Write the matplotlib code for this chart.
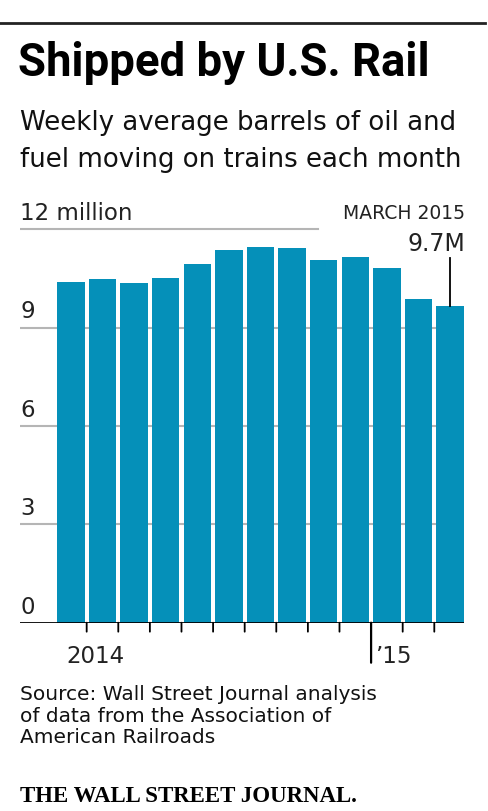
import matplotlib
matplotlib.use("Agg")
import matplotlib.pyplot as plt

# Monthly values, Mar 2014 - Mar 2015 (million barrels, weekly average)
months = ["Mar", "Apr", "May", "Jun", "Jul", "Aug", "Sep", "Oct", "Nov", "Dec",
          "Jan", "Feb", "Mar"]
barrels = [10.40, 10.48, 10.36, 10.50, 10.95, 11.37, 11.45, 11.42, 11.05, 11.16,
           10.82, 9.88, 9.66]
yticks = [0, 3, 6, 9, 12]
ytick_labels = ["0", "3", "6", "9", "12 million"]
year_labels = ["2014", "\u201915"]

plt.rcParams["font.family"] = ["DejaVu Sans"]

W, H = 489, 811
fig = plt.figure(figsize=(W / 100, H / 100), dpi=100)

def fx(px):
    return px / W

def fy(py):
    return 1 - py / H

# axes: x from 20 to 464 px, y=0 at 622.7 px, 32.8 px per million
y0, ppm = 622.7, 32.8
ytop = 12.6
ax = fig.add_axes([fx(20), fy(y0), fx(464) - fx(20), (ytop * ppm) / H])
ax.set_xlim(-1.61, 12.44)
ax.set_ylim(0, ytop)
ax.axis("off")

blue = "#0590b9"
x = list(range(len(barrels)))
ax.bar(x, barrels, width=0.87, color=blue, zorder=2)

# gridlines and tick labels
for v, lab in zip(yticks, ytick_labels):
    if v == 0:
        ax.axhline(0, color="black", lw=2, zorder=3)
    else:
        xmax = 7.82 if v == 12 else 12.44
        ax.plot([-1.61, xmax], [v, v], color="#b5b5b5", lw=1.5, zorder=1)
    ax.annotate(lab, xy=(-1.61, v), xytext=(0, 6.5), textcoords="offset points",
                ha="left", va="baseline", fontsize=16.5, color="#222222")

# month ticks between bars
for i in range(len(barrels) - 1):
    big = months[i + 1] == "Jan"
    ln = 40 if big else 9
    ax.annotate("", xy=(i + 0.5, 0), xytext=(0, -ln * 0.72), textcoords="offset points",
                arrowprops=dict(arrowstyle="-", color="black", lw=1.6 if big else 1.3,
                                shrinkA=0, shrinkB=0))

fig.text(fx(66), fy(662.7), year_labels[0], fontsize=16.5, color="#222222", va="baseline")
fig.text(fx(375), fy(662.7), year_labels[1], fontsize=16.5, color="#222222", va="baseline")

# annotation for the last bar
last = len(barrels) - 1
ax.plot([last, last], [barrels[last], (y0 - 258) / ppm], color="black", lw=1.3, zorder=3,
        clip_on=False)
fig.text(fx(465), fy(219.3), "MARCH 2015", fontsize=13.5, color="#222222",
         ha="right", va="baseline")
fig.text(fx(465), fy(251), "%.1fM" % barrels[last], fontsize=17, color="#222222",
         ha="right", va="baseline")

# header
fig.add_artist(plt.Line2D([0, fx(485)], [fy(23), fy(23)], color="#222222", lw=2))
fig.text(fx(18), fy(76), "Shipped by U.S. Rail", fontsize=32.8, fontweight="bold",
         color="black", va="baseline", family=["Roboto", "DejaVu Sans"])
fig.text(fx(20), fy(130), "Weekly average barrels of oil and", fontsize=18.7,
         color="#111111", va="baseline")
fig.text(fx(20), fy(167), "fuel moving on trains each month", fontsize=18.7,
         color="#111111", va="baseline")

# footer
src = ["Source: Wall Street Journal analysis",
       "of data from the Association of",
       "American Railroads"]
for k, line in enumerate(src):
    fig.text(fx(20), fy(700 + 21.5 * k), line, fontsize=14.5, color="#111111",
             va="baseline")
fig.text(fx(20), fy(802), "THE WALL STREET JOURNAL.", fontsize=16.5, fontweight="bold",
         color="black", va="baseline", family=["Liberation Serif", "DejaVu Serif"])

fig.savefig("out.png", dpi=100, facecolor="white")
